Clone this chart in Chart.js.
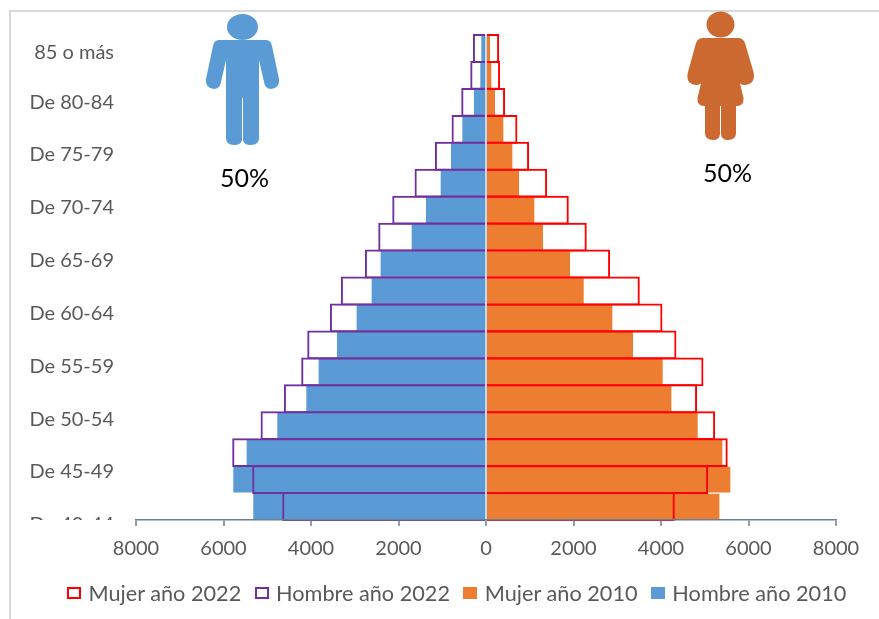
<!DOCTYPE html>
<html>
<head>
<meta charset="utf-8">
<title>Pirámide de población</title>
<script src="https://cdn.jsdelivr.net/npm/chart.js@4"></script>
<style>
  html, body { margin: 0; padding: 0; background: #fff; }
  #marco { position: absolute; left: 9px; top: 10px; width: 870px; height: 609px; border-left: 2px solid #d9d9d9; border-top: 2px solid #d9d9d9; box-sizing: border-box; }
  #piramide { position: absolute; left: 0; top: 0; }
  .icono { position: absolute; left: 0; top: 0; }
  .porcentaje { position: absolute; font: 25px Lato, sans-serif; color: #000; line-height: 30px; }
  #leyenda { position: absolute; left: 67px; top: 578px; display: flex; white-space: nowrap; font: 21.7px Lato, sans-serif; color: #595959; line-height: 30px; }
  .leyenda-item { display: flex; align-items: center; margin-right: 13.3px; }
  .leyenda-color { width: 14px; height: 12px; margin-right: 7.5px; box-sizing: border-box; }
</style>
</head>
<body>
<div id="marco"></div>
<canvas id="piramide" width="879" height="619"></canvas>
<svg class="icono" width="879" height="160">
  <!-- hombre -->
  <ellipse cx="242.5" cy="27" rx="15.5" ry="13" fill="#5b9bd5"/>
  <path fill="#5b9bd5" d="M219,40 H266 Q271,40 272,46 L279,79 Q280,88 271,89 Q265,89 264,82 L259,60 V138 Q259,145 251,145 Q243.5,145 243,140 V98 H242 V140 Q241.5,145 234,145 Q226,145 226,138 V60 L221,82 Q220,89 214,89 Q205,88 206,79 L213,46 Q214,40 219,40 Z"/>
  <!-- mujer -->
  <ellipse cx="720.5" cy="24.5" rx="14" ry="13" fill="#cb6931"/>
  <path fill="#cb6931" d="M703,38 H738 Q743,38 745,43 L753.5,72 Q756,84 745,85 Q739,85 738,79 L737,71 L743.5,98 Q744,106 737,106 H736 V133 Q736,140 728,140 Q721.5,140 721,134 V106 H720 V134 Q719.5,140 713,140 Q705,140 705,133 V106 H704 Q697,106 697.5,98 L704,71 L703,79 Q702,85 696,85 Q685,84 688,72 L696,43 Q698,38 703,38 Z"/>
</svg>
<div class="porcentaje" style="left:220px; top:162px;">50%</div>
<div class="porcentaje" style="left:703px; top:157px;">50%</div>
<div id="leyenda"></div>

<script>
  var edades = ['85 o más', 'De 80-84', 'De 75-79', 'De 70-74', 'De 65-69', 'De 60-64', 'De 55-59', 'De 50-54', 'De 45-49', 'De 40-44'];

  // each age label spans two bars in the picture, so every second row has no label
  var filas = ['85 o más', '', 'De 80-84', '', 'De 75-79', '', 'De 70-74', '', 'De 65-69', '', 'De 60-64', '', 'De 55-59', '', 'De 50-54', '', 'De 45-49', ''];

  var mujer2022 = [300, 322, 436, 718, 985, 1397, 1892, 2303, 2837, 3515, 4033, 4353, 4970, 4825, 5237, 5525, 5077, 4315];
  var hombre2022 = [-299, -360, -566, -787, -1168, -1633, -2143, -2463, -2768, -3317, -3568, -4086, -4224, -4620, -5153, -5801, -5344, -4658];
  var mujer2010 = [91, 122, 206, 396, 602, 754, 1105, 1303, 1920, 2233, 2888, 3360, 4039, 4237, 4839, 5403, 5585, 5334];
  var hombre2010 = [-107, -130, -274, -541, -800, -1036, -1372, -1699, -2408, -2614, -2957, -3406, -3825, -4107, -4770, -5471, -5776, -5319];

  var fuente = { family: 'Lato', size: 20 };
  var grisTexto = '#595959';
  var grisEje = '#6a7f95';

  // the lowest label is cut off by the plot in the original
  var recorteEtiqueta = {
    id: 'recorteEtiqueta',
    afterDraw: function (chart) {
      var ctx = chart.ctx;
      ctx.save();
      ctx.fillStyle = '#fff';
      ctx.fillRect(20, chart.chartArea.bottom, chart.chartArea.left - 21, 14);
      ctx.restore();
    }
  };

  var ctx = document.getElementById('piramide').getContext('2d');
  var piramide = new Chart(ctx, {
    type: 'bar',
    plugins: [recorteEtiqueta],
    data: {
      labels: filas,
      datasets: [
        { label: 'Mujer año 2022', data: mujer2022, backgroundColor: 'rgba(0,0,0,0)', borderColor: '#ff0000', borderWidth: 2, borderSkipped: 'start', barPercentage: 1.07, categoryPercentage: 1 },
        { label: 'Hombre año 2022', data: hombre2022, backgroundColor: 'rgba(0,0,0,0)', borderColor: '#7030a0', borderWidth: 2, borderSkipped: 'start', barPercentage: 1.07, categoryPercentage: 1 },
        { label: 'Mujer año 2010', data: mujer2010, backgroundColor: '#ed7d31', barPercentage: 0.95, categoryPercentage: 1 },
        { label: 'Hombre año 2010', data: hombre2010, backgroundColor: '#5b9bd5', barPercentage: 0.95, categoryPercentage: 1 }
      ]
    },
    options: {
      indexAxis: 'y',
      responsive: false,
      animation: false,
      grouped: false,
      clip: false,
      layout: { padding: { left: 0, right: 43, top: 35, bottom: 46 } },
      plugins: {
        tooltip: { enabled: false },
        legend: { display: false }
      },
      scales: {
        x: {
          min: -8000,
          max: 8000,
          ticks: {
            stepSize: 2000,
            color: grisTexto,
            font: fuente,
            padding: 11,
            maxRotation: 0,
            callback: function (value) { return String(Math.abs(value)); }
          },
          grid: {
            z: 1,
            lineWidth: 2,
            tickWidth: 1.5,
            tickLength: 6,
            tickColor: grisEje,
            color: function (c) { return c.tick && c.tick.value === 0 ? '#c9d9e8' : 'rgba(0,0,0,0)'; }
          },
          border: { color: grisEje, width: 1.5, z: 1 },
          afterFit: function (scale) { scale.height = 53; }
        },
        y: {
          type: 'category',
          display: false,
          offset: true
        },
        edad: {
          type: 'linear',
          position: 'left',
          reverse: true,
          offset: false,
          min: -0.27,
          max: 8.91,
          grid: { display: false, drawTicks: false, offset: false },
          border: { display: false },
          afterBuildTicks: function (scale) {
            scale.ticks = edades.map(function (e, i) { return { value: i === 0 ? 0.07 : i }; });
          },
          ticks: {
            autoSkip: false,
            color: grisTexto,
            font: fuente,
            padding: 22,
            callback: function (value, i) { return edades[i]; }
          },
          afterFit: function (scale) { scale.width = 136; }
        }
      }
    }
  });

  // Display legend
  var legendContainer = document.getElementById('leyenda');
  piramide.data.datasets.forEach(function (dataset) {
    var legendItem = document.createElement('div');
    legendItem.classList.add('leyenda-item');
    var legendColor = document.createElement('div');
    legendColor.classList.add('leyenda-color');
    legendColor.style.backgroundColor = dataset.backgroundColor;
    if (dataset.borderWidth) {
      legendColor.style.border = dataset.borderWidth + 'px solid ' + dataset.borderColor;
    }
    legendItem.appendChild(legendColor);
    legendItem.appendChild(document.createTextNode(dataset.label));
    legendContainer.appendChild(legendItem);
  });
</script>
</body>
</html>
